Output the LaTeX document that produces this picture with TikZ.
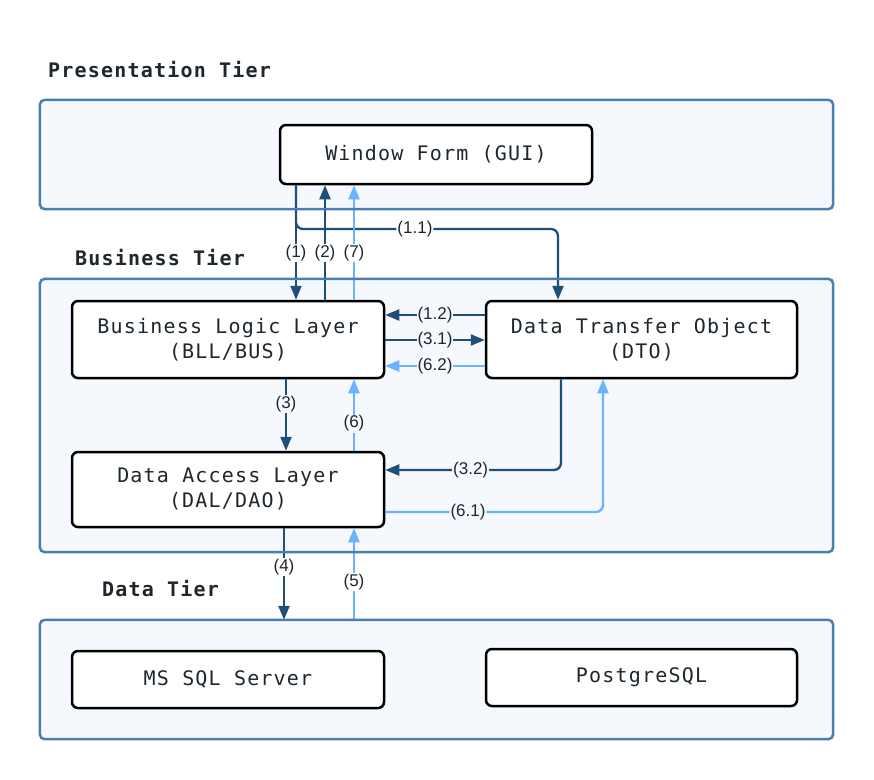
\documentclass[tikz,border=0pt]{standalone}
\usepackage{fontspec}
\usetikzlibrary{arrows.meta}
\newfontfamily\boxfont{DejaVu Sans Mono}[LetterSpace=6]
\newfontfamily\tierfont{DejaVu Sans Mono Bold}[LetterSpace=6]
\newfontfamily\lblfont{Liberation Sans}
\definecolor{darkarr}{HTML}{1F4E79}
\definecolor{lightarr}{HTML}{6CB2FF}
\definecolor{tierline}{HTML}{4A7EB3}
\definecolor{tierbg}{HTML}{F5F9FE}
\definecolor{txt}{HTML}{1E272E}
\tikzset{
  tierbox/.style={draw=none, fill=tierbg, rounded corners=5pt, minimum width=793pt, inner sep=0pt},
  tierborder/.style={draw=tierline, line width=2.5pt, rounded corners=5pt},
  tierlabel/.style={anchor=west, text=txt, font=\tierfont\fontsize{20}{24}\selectfont, inner sep=0pt},
  compbox/.style={draw=black, fill=white, line width=2.5pt, rounded corners=6pt, inner sep=0pt,
    align=center, text=txt, font=\boxfont\fontsize{20}{25}\selectfont},
  darkline/.style={draw=darkarr, line width=2.3pt},
  lightline/.style={draw=lightarr, line width=2.3pt},
  tip/.style={-{Triangle[length=14pt,width=11pt]}},
  lbl/.style={font=\lblfont\fontsize{17}{19}\selectfont, text=txt, inner sep=1pt, fill=tierbg},
  lblw/.style={lbl, fill=white},
}
\begin{document}
\begin{tikzpicture}[x=1pt,y=1pt]
\useasboundingbox (0,0) rectangle (874,-779);
\fill[white] (0,0) rectangle (874,-779);
% tier backgrounds
\node[tierbox, minimum height=109pt] (pres) at (436.5,-154.5) {};
\node[tierbox, minimum height=273pt] (bus) at (436.5,-415.5) {};
\node[tierbox, minimum height=119pt] (data) at (436.5,-679.5) {};
% tier labels
\node[tierlabel] (lpres) at (48,-70) {Presentation Tier};
\node[tierlabel] (lbus) at (75,-258) {Business Tier};
\node[tierlabel] (ldata) at (102,-589) {Data Tier};
% components
\node[compbox, minimum width=312pt, minimum height=59pt] (gui) at (436,-154.5) {Window Form (GUI)};
\node[compbox, minimum width=312pt, minimum height=77pt] (bll) at (228,-339.5) {Business Logic Layer\\(BLL/BUS)};
\node[compbox, minimum width=311pt, minimum height=77pt] (dto) at (641.5,-339.5) {Data Transfer Object\\(DTO)};
\node[compbox, minimum width=312pt, minimum height=75pt] (dal) at (228,-489.5) {Data Access Layer\\(DAL/DAO)};
\node[compbox, minimum width=312pt, minimum height=57pt] (mssql) at (228,-679.5) {MS SQL Server};
\node[compbox, minimum width=311pt, minimum height=57pt] (pg) at (641.5,-677.5) {PostgreSQL};
% helper coordinates
\coordinate (x1) at (296,0);
\coordinate (x2) at (325,0);
\coordinate (x7) at (354,0);
\coordinate (x3) at (286,0);
\coordinate (x6) at (354,0);
\coordinate (x4) at (284,0);
\coordinate (x5) at (354,0);
\coordinate (k11) at (558,-229);
\coordinate (x32) at (561,0);
\coordinate (y32) at (0,-470);
\coordinate (x61) at (603,0);
\coordinate (y61) at (0,-512);
\coordinate (y12) at (0,-315);
\coordinate (y31) at (0,-340);
\coordinate (y62) at (0,-366);
% arrows
\draw[darkline, rounded corners=7pt, tip] (x1 |- gui.south) |- node[lblw, pos=0.727] {(1.1)} (k11) -- (k11 |- dto.north);
\draw[darkline, line width=1.8pt, tip] (x1 |- gui.south) -- node[lblw, pos=0.59] {(1)} (x1 |- bll.north);
\draw[darkline, tip] (x2 |- bll.north) -- node[lblw, pos=0.41] {(2)} (x2 |- gui.south);
\draw[lightline, tip] (x7 |- bll.north) -- node[lblw, pos=0.41] {(7)} (x7 |- gui.south);
\draw[darkline, tip] (dto.west |- y12) -- node[lbl] {(1.2)} (bll.east |- y12);
\draw[darkline, tip] (bll.east |- y31) -- node[lbl] {(3.1)} (dto.west |- y31);
\draw[lightline, tip] (dto.west |- y62) -- node[lbl] {(6.2)} (bll.east |- y62);
\draw[darkline, tip] (x3 |- bll.south) -- node[lbl, pos=0.35] {(3)} (x3 |- dal.north);
\draw[lightline, tip] (x6 |- dal.north) -- node[lbl, pos=0.38] {(6)} (x6 |- bll.south);
\draw[darkline, rounded corners=7pt, tip] (x32 |- dto.south) |- node[lbl, pos=0.757] {(3.2)} (dal.east |- y32);
\draw[lightline, rounded corners=7pt, tip] (dal.east |- y61) -| node[lbl, pos=0.19] {(6.1)} (x61 |- dto.south);
\draw[darkline, tip] (x4 |- dal.south) -- node[lblw, pos=0.42] {(4)} (x4 |- data.north);
\draw[lightline, tip] (x5 |- data.north) -- node[lblw, pos=0.41] {(5)} (x5 |- dal.south);
% tier borders on top
\draw[tierborder] (pres.south west) rectangle (pres.north east);
\draw[tierborder] (bus.south west) rectangle (bus.north east);
\draw[tierborder] (data.south west) rectangle (data.north east);
\end{tikzpicture}
\end{document}
